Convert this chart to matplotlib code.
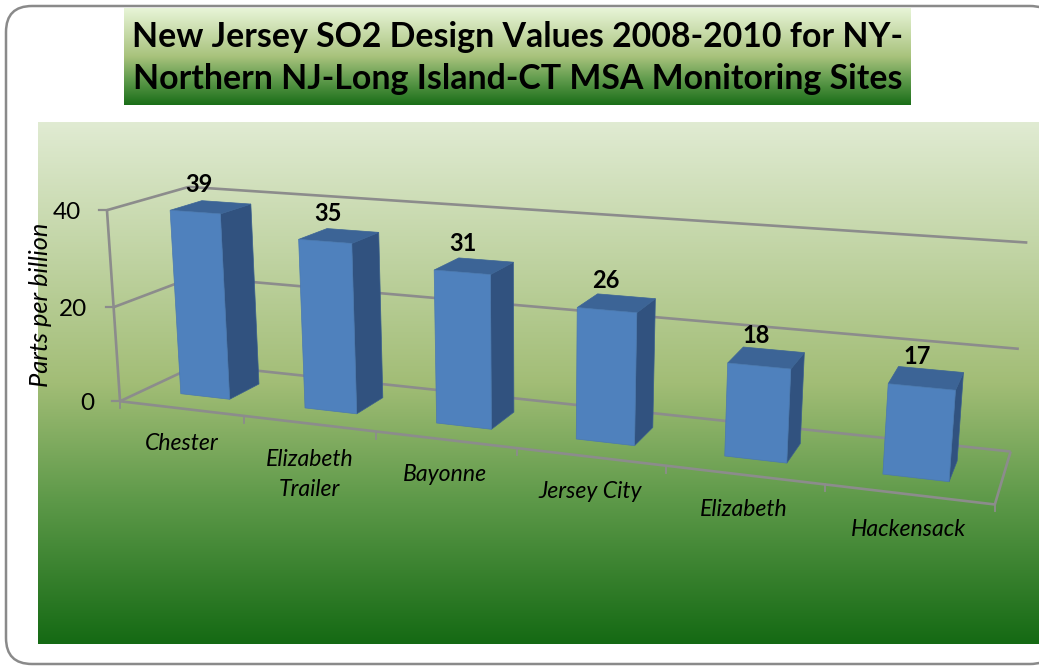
import numpy as np
import matplotlib
matplotlib.use("Agg")
import matplotlib.pyplot as plt
from matplotlib.colors import LinearSegmentedColormap
from matplotlib.patches import FancyBboxPatch, Polygon

plt.rcParams["font.family"] = ["Lato", "DejaVu Sans"]

sites = ["Chester", "Elizabeth\nTrailer", "Bayonne", "Jersey City", "Elizabeth", "Hackensack"]
so2_ppb = [39, 35, 31, 26, 18, 17]
y_ticks = [0, 20, 40]
y_max = 40
title = "New Jersey SO2 Design Values 2008-2010 for NY-\nNorthern NJ-Long Island-CT MSA Monitoring Sites"

W, H = 1039, 666
GRID = "#8c8c8c"

# frame of the 3D box: (category, depth, value) -> pixel
frame_world = np.array([
    (0, 0, 0), (0, 0, 20), (0, 0, 40), (0, 1, 0), (0, 1, 20), (0, 1, 40),
    (6, 1, 0), (6, 1, 20), (6, 1, 40), (6, 0, 0), (1, 0, 0), (2, 0, 0), (5, 0, 0),
], dtype=float)
frame_px = np.array([
    (122, 400), (113, 307), (105, 210), (196, 364), (194, 278), (191, 187),
    (1011, 451), (1019, 349), (1027, 242), (995, 503), (245, 416), (377, 432), (824, 487),
], dtype=float)


def fit_camera(world, px):
    rows = []
    for (x, y, z), (u, v) in zip(world, px):
        rows.append([x, y, z, 1, 0, 0, 0, 0, -u * x, -u * y, -u * z, -u])
        rows.append([0, 0, 0, 0, x, y, z, 1, -v * x, -v * y, -v * z, -v])
    return np.linalg.svd(np.array(rows))[2][-1].reshape(3, 4)


cam = fit_camera(frame_world, frame_px)


def proj(x, y, z):
    p = cam @ np.array([x, y, z, 1.0])
    return p[0] / p[2], p[1] / p[2]


def gradient(ax, x0, x1, y0, y1, colors, z=0):
    cmap = LinearSegmentedColormap.from_list("bg", colors)
    ramp = np.linspace(0, 1, 256).reshape(-1, 1)
    ax.imshow(ramp, cmap=cmap, extent=(x0, x1, y1, y0), aspect="auto", zorder=z)


fig = plt.figure(figsize=(W / 100, H / 100), dpi=100)
ax = fig.add_axes([0, 0, 1, 1])

ax.add_patch(FancyBboxPatch((6, 6), 1050, 658, boxstyle="round,pad=0,rounding_size=26",
                            fc="white", ec="#8a8a8a", lw=1.8, zorder=0))

stops = [(0.0, "#e0ebd2"), (0.5, "#a2bd76"), (0.72, "#5f9a4a"), (1.0, "#156a14")]
gradient(ax, 38, 1039, 122, 644, stops, z=1)
gradient(ax, 124, 911, 8, 105,
         [(0.0, "#e8f5d8"), (0.5, "#a8c27c"), (0.72, "#659e50"), (1.0, "#1a6e18")], z=1)

ax.text(518, 58, title, ha="center", va="center", fontsize=24.4, fontweight="bold",
        linespacing=1.4, zorder=5)


def seg(a, b):
    p, q = proj(*a), proj(*b)
    ax.plot([p[0], q[0]], [p[1], q[1]], color=GRID, lw=1.9, solid_capstyle="butt", zorder=2)


# walls, floor and ticks
for v in y_ticks:
    seg((0, 0, v), (0, 1, v))
    seg((0, 1, v), (6, 1, v))
    tx, ty = proj(0, 0, v)
    ax.plot([tx - 8, tx], [ty, ty], color=GRID, lw=1.6, zorder=2)
    ax.text(tx - 26, ty + 2, str(v), ha="right", va="center", fontsize=17.5, zorder=5)
seg((0, 0, 0), (0, 0, y_max))
seg((0, 0, 0), (6, 0, 0))
seg((6, 0, 0), (6, 1, 0))
for i in range(len(sites) + 1):
    tx, ty = proj(i, 0, 0)
    ax.plot([tx, tx], [ty, ty + 7], color=GRID, lw=1.3, zorder=2)

ax.text(41, 305, "Parts per billion", rotation=90, ha="center", va="center",
        fontsize=18.3, style="italic", zorder=5)

# bars, each as three projected faces
gap = 0.3
dgap = 0.3
for i, val in enumerate(so2_ppb):
    x0, x1 = i + gap, i + 1 - gap
    y0, y1 = dgap, 1 - dgap
    side = [proj(x1, y0, 0), proj(x1, y1, 0), proj(x1, y1, val), proj(x1, y0, val)]
    top = [proj(x0, y0, val), proj(x1, y0, val), proj(x1, y1, val), proj(x0, y1, val)]
    front = [proj(x0, y0, 0), proj(x1, y0, 0), proj(x1, y0, val), proj(x0, y0, val)]
    z = 3 + i * 0.01
    ax.add_patch(Polygon(side, fc="#31527f", ec="#3a5f8e", lw=0.5, zorder=z))
    ax.add_patch(Polygon(top, fc="#3c6496", ec="#3c6496", lw=0.5, zorder=z))
    ax.add_patch(Polygon(front, fc="#4f81bd", ec="#4a78b0", lw=0.5, zorder=z))
    cx, cy = proj(i + 0.5, 0.45, val)
    ax.text(cx - 8, cy - 24, str(val), ha="center", va="center", fontsize=17,
            fontweight="bold", zorder=5)

for i, name in enumerate(sites):
    lx, ly = proj(i + 0.5, 0, 0)
    if "\n" in name:
        ly += 16
    ax.text(lx, ly + 35, name, ha="center", va="center", fontsize=16.6, style="italic",
            linespacing=1.5, zorder=5)

ax.set_xlim(0, W)
ax.set_ylim(H, 0)
ax.axis("off")
fig.savefig("out.png", dpi=100)
